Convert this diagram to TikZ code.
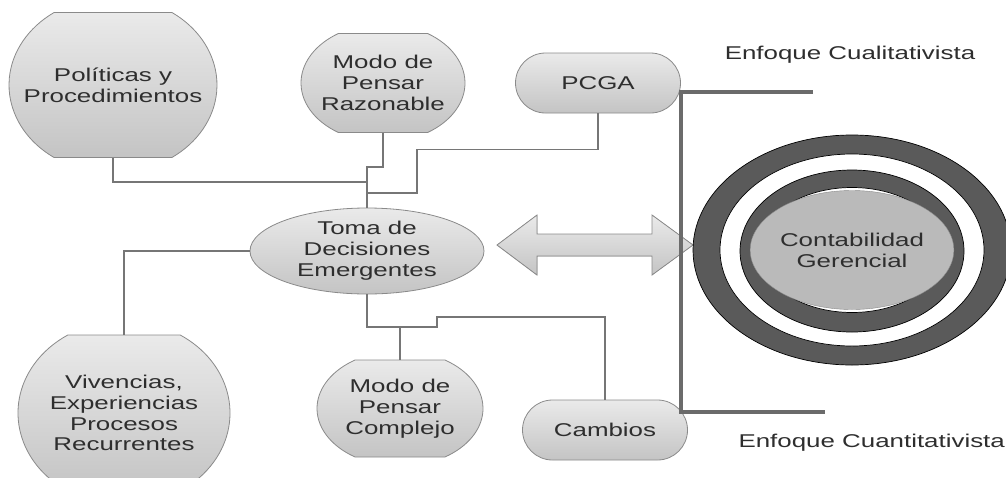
\documentclass[tikz,border=0pt]{standalone}
\usepackage{fontspec}
\setmainfont{Liberation Sans}[FakeStretch=1.4]
\usepackage{tikz}
\usetikzlibrary{shapes,arrows}
\usetikzlibrary{arrows.meta}
\definecolor{cmtop}{HTML}{EAEAEA}
\definecolor{cmbottom}{HTML}{C4C4C4}
\definecolor{cmedge}{HTML}{8A8A8A}
\definecolor{cmline}{HTML}{767676}
\definecolor{cmbar}{HTML}{6B6B6B}
\definecolor{cmring}{HTML}{5A5A5A}
\definecolor{cmtext}{HTML}{2E2E2E}
\tikzset{
  cmlabel/.style={align=center, text=cmtext, font=\fontsize{18.5}{20.8}\selectfont},
  cmfill/.style={draw=cmedge, line width=0.8pt, top color=cmtop, bottom color=cmbottom},
  link/.style={draw=cmline, line width=1.3pt},
  bar/.style={draw=cmbar, line width=3.5pt}
}
\newcommand{\cmcutnode}[6] {\pgfmathsetmacro{\cmang}{asin(#5/#4)}\pgfmathsetmacro{\cmhw}{#3*cos(\cmang)}
  \draw [shift={(#1)}, cmfill] (\cmhw,-#5) arc [start angle=-\cmang, end angle=\cmang, x radius=#3, y radius=#4] -- (-\cmhw,#5) arc [start angle=180-\cmang, end angle=180+\cmang, x radius=#3, y radius=#4] -- cycle;
  \node at (#1) (#2) [minimum width=2*#3, minimum height=2*#5, inner sep=0pt, cmlabel] {#6};}
\newcommand{\cmoval}[5] {\node at (#1) (#2) [ellipse, cmfill, inner sep=0pt, minimum width=#3, minimum height=#4, cmlabel] {#5};}
\newcommand{\cmpill}[3] {\node at (#1) (#2) [rounded rectangle, cmfill, inner sep=0pt, minimum width=165, minimum height=60, cmlabel] {#3};}
\newcommand{\cmring}[5] {\node at (#1) (#2) [ellipse, draw=black, line width=0.7pt, fill=#5, inner sep=0pt, minimum width=#3, minimum height=#4] {};}

\begin{document}
\begin{tikzpicture}[x=1pt, y=-1pt]
\useasboundingbox (0,0) rectangle (1006,477);

\cmcutnode {113,85} {pol} {104} {88} {72.5} {Políticas y\\Procedimientos};
\cmcutnode {383,83} {mpr} {82} {59} {49.5} {Modo de\\Pensar\\Razonable};
\cmpill {598,83} {pcga} {PCGA};
\cmoval {367,251} {toma} {234} {86} {Toma de\\Decisiones\\Emergentes};
\cmcutnode {124,413} {viv} {106} {92} {78} {Vivencias,\\Experiencias\\Procesos\\Recurrentes};
\cmcutnode {400,408.5} {mpc} {83} {57.7} {48.5} {Modo de\\Pensar\\Complejo};
\cmpill {605,430} {cam} {Cambios};

\coordinate (j1) at (367,182);
\coordinate (j2) at (367,193);
\coordinate (j3) at (400,327);

\draw [link] (mpr.south) |- (367,167) -- (toma.north);
\draw [link] (pol.south) |- (j1);
\draw [link] (pcga.south) -- ++(0,36) -| (417,193) -- (j2);
\draw [link] (toma.west) -| (viv.north);
\draw [link] (toma.south) |- (j3) -- (mpc.north);
\draw [link] (j3) -- (437,327) -- (437,317) -| (cam.north);

% doble flecha
\filldraw [draw=cmedge, line width=0.8pt, top color=cmtop, bottom color=cmbottom]
  (497,245) -- (537,215) -- (537,234) -- (652,234) -- (652,215) -- (693,245)
  -- (652,275) -- (652,256) -- (537,256) -- (537,275) -- cycle;

\coordinate (qa) at (813,92);
\coordinate (qb) at (825,412);
\draw [bar] (qa) -- (681,92) -- (681,412) -- (qb);
\node at (850,55) (qual) [cmlabel] {Enfoque Cualitativista};
\node at (735,443) (quan) [cmlabel, anchor=west] {Enfoque Cuantitativista};

\cmring {852,250} {ra} {318} {230} {cmring};
\cmring {852,250} {rb} {264} {192} {white};
\cmring {852,251} {rc} {224} {162} {cmring};
\cmring {852,250} {rd} {186} {125} {white};
\node at (852,250) (cg) [ellipse, draw=cmedge, fill=cmbottom!95!black, inner sep=0pt, minimum width=178, minimum height=119, cmlabel] {Contabilidad\\Gerencial};
\end{tikzpicture}
\end{document}
